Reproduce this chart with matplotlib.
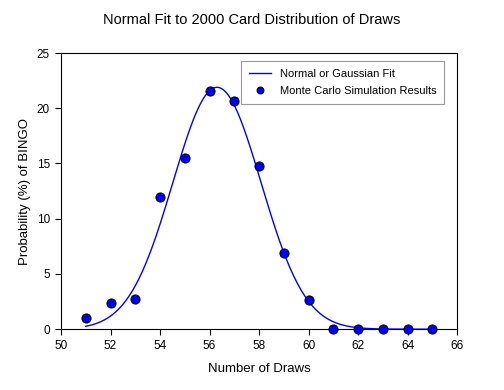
import numpy as np
import matplotlib
matplotlib.use("Agg")
import matplotlib.pyplot as plt

plt.rcParams['font.family'] = ['Liberation Sans', 'DejaVu Sans']

draws = [51, 52, 53, 54, 55, 56, 57, 58, 59, 60, 61, 62, 63, 64, 65]
probability = [1.0, 2.35, 2.7, 12.0, 15.5, 21.6, 20.7, 14.8, 6.9, 2.6, 0.0, 0.0, 0.0, 0.0, 0.0]

# Gaussian fit parameters (amplitude %, mean, std dev)
fit_amplitude = 21.9
fit_mean = 56.3
fit_sd = 1.78

fig = plt.figure(figsize=(5.04, 3.9), dpi=100)
ax = fig.add_axes([0.121, 0.156, 0.786, 0.708])

xf = np.linspace(min(draws), max(draws), 400)
yf = fit_amplitude * np.exp(-(xf - fit_mean) ** 2 / (2 * fit_sd ** 2))
ax.plot(xf, yf, color='#0000ff', lw=1.0, label='Normal or Gaussian Fit')
ax.plot(draws, probability, 'o', color='#0000ff', markeredgecolor='black',
        markeredgewidth=0.8, markersize=6.5, label='Monte Carlo Simulation Results',
        clip_on=False, zorder=3)

ax.set_xlim(50, 66)
ax.set_ylim(0, 25)
ax.set_xticks(range(50, 67, 2))
ax.set_yticks(range(0, 26, 5))
ax.tick_params(direction='out', length=4, width=0.8, labelsize=8.5, pad=4)
for s in ax.spines.values():
    s.set_linewidth(0.8)

ax.set_xlabel('Number of Draws', fontsize=9.5, labelpad=8)
ax.set_ylabel('Probability (%) of BINGO', fontsize=9.5, labelpad=4)
fig.text(0.5, 0.95, 'Normal Fit to 2000 Card Distribution of Draws', ha='center', va='center', fontsize=10.5)

leg = ax.legend(loc='upper right', bbox_to_anchor=(0.982, 0.99), fontsize=8, frameon=True,
                fancybox=False, edgecolor='#808080', handlelength=2.0, borderpad=0.7,
                labelspacing=0.65, markerscale=0.75)
leg.get_frame().set_linewidth(0.8)

fig.savefig('out.png', dpi=100)
